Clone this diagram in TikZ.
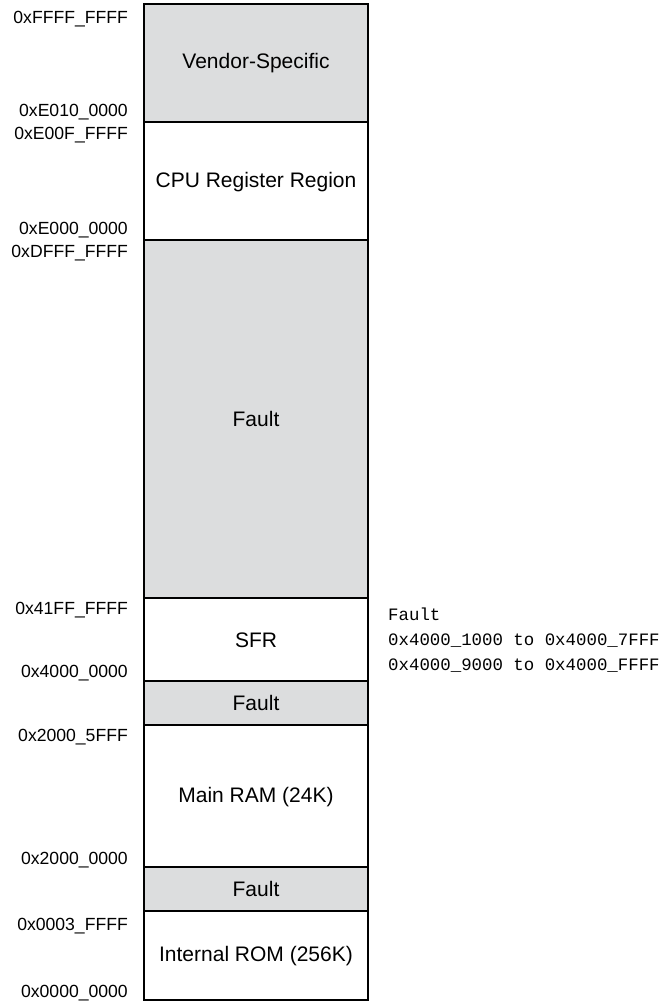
\documentclass[tikz,border=0pt]{standalone}
\usepackage{fontspec}
\setmainfont{Liberation Sans}
\setmonofont{Liberation Mono}
\definecolor{faultgray}{HTML}{DCDDDE}

\begin{document}
\begin{tikzpicture}[x=1pt,y=-1pt,
	region/.style={draw=black,line width=2.4pt},
	regtext/.style={font=\fontsize{21}{25}\selectfont},
	addr/.style={anchor=east,inner sep=0pt,font=\fontsize{17.6}{20}\selectfont}]
	\useasboundingbox (0,0) rectangle (662,1005);
	
	% memory regions, top to bottom
	\draw[region,fill=faultgray](144,4) rectangle (368,122);
	\draw[region,fill=white](144,122) rectangle (368,240);
	\draw[region,fill=faultgray](144,240) rectangle (368,598);
	\draw[region,fill=white](144,598) rectangle (368,681);
	\draw[region,fill=faultgray](144,681) rectangle (368,725);
	\draw[region,fill=white](144,725) rectangle (368,867);
	\draw[region,fill=faultgray](144,867) rectangle (368,911);
	\draw[region,fill=white](144,911) rectangle (368,1000);
	
	\node[regtext] (vendor) at (256,63) {Vendor-Specific};
	\node[regtext] (cpureg) at (256,182) {CPU Register Region};
	\node[regtext] (faulthi) at (256,419) {Fault};
	\node[regtext] (sfr) at (256,640) {SFR};
	\node[regtext] (faultmid) at (256,703) {Fault};
	\node[regtext] (mainram) at (256,797) {Main RAM (24K)};
	\node[regtext] (faultlo) at (256,889) {Fault};
	\node[regtext] (introm) at (256,956) {Internal ROM (256K)};
	
	% addresses
	\node[addr] (aFFFF) at (128,19) {0xFFFF\_FFFF};
	\node[addr] (aE010) at (128,112) {0xE010\_0000};
	\node[addr] (aE00F) at (128,135) {0xE00F\_FFFF};
	\node[addr] (aE000) at (128,230) {0xE000\_0000};
	\node[addr] (aDFFF) at (128,253) {0xDFFF\_FFFF};
	\node[addr] (a41FF) at (128,610) {0x41FF\_FFFF};
	\node[addr] (a4000) at (128,673) {0x4000\_0000};
	\node[addr] (a2005) at (128,737) {0x2000\_5FFF};
	\node[addr] (a2000) at (128,860) {0x2000\_0000};
	\node[addr] (a0003) at (128,926) {0x0003\_FFFF};
	\node[addr] (a0000) at (128,993) {0x0000\_0000};
	
	% holes in the SFR range
	\node[anchor=north west,inner sep=0pt,align=left,
		font=\ttfamily\fontsize{17.4}{25}\selectfont] (sfrnote) at (388,608)
		{Fault\\0x4000\_1000 to 0x4000\_7FFF\\0x4000\_9000 to 0x4000\_FFFF};
	
\end{tikzpicture}
\end{document}
